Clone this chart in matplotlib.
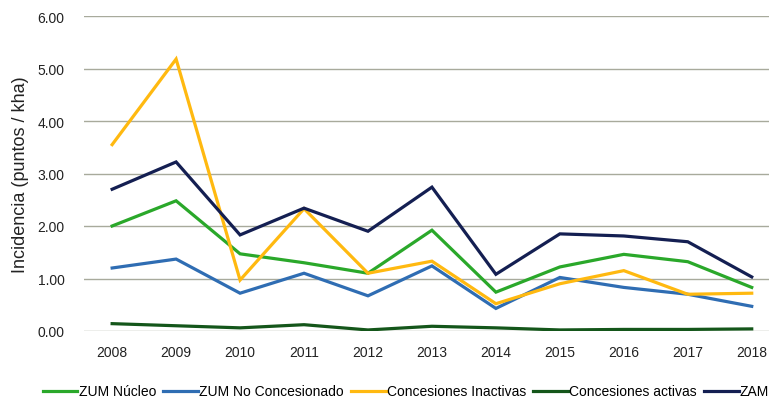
import matplotlib.pyplot as plt

# Data
years = [2008, 2009, 2010, 2011, 2012, 2013, 2014, 2015, 2016, 2017, 2018]
zum_nucleo = [2.00, 2.48, 1.47, 1.30, 1.10, 1.92, 0.74, 1.22, 1.46, 1.32, 0.83]
zum_no_conc = [1.20, 1.37, 0.72, 1.10, 0.67, 1.24, 0.43, 1.02, 0.83, 0.70, 0.47]
conc_inactivas = [3.55, 5.18, 0.97, 2.33, 1.10, 1.33, 0.52, 0.90, 1.15, 0.70, 0.72]
conc_activas = [0.14, 0.10, 0.06, 0.12, 0.02, 0.09, 0.06, 0.02, 0.03, 0.03, 0.04]
zam = [2.70, 3.22, 1.83, 2.34, 1.90, 2.74, 1.08, 1.85, 1.81, 1.70, 1.03]

labels = ["ZUM Núcleo", "ZUM No Concesionado", "Concesiones Inactivas",
          "Concesiones activas", "ZAM"]
colors = ["#2aa82a", "#2f6db3", "#ffb910", "#14561a", "#141f52"]

plt.rcParams["font.family"] = ["Liberation Sans", "DejaVu Sans"]

fig = plt.figure(figsize=(7.69, 4.02), dpi=100)
ax = fig.add_axes([84 / 769, 1 - 332 / 402, (769 - 84) / 769, (332 - 17) / 402])

series = [zum_nucleo, zum_no_conc, conc_inactivas, conc_activas, zam]
for vals, lab, col in zip(series, labels, colors):
    ax.plot(years, vals, color=col, lw=2.3, label=lab, solid_joinstyle="miter")

ax.set_xlim(2007.56, 2018.27)
ax.set_ylim(0, 6)
ax.set_yticks([0, 1, 2, 3, 4, 5, 6])
ax.set_yticklabels(["%.2f" % v for v in [0, 1, 2, 3, 4, 5, 6]])
ax.set_xticks(years)
ax.tick_params(length=0, labelsize=10, colors="#222222", pad=10)
ax.tick_params(axis="y", pad=14)
ax.grid(axis="y", color="#a8aa9c", lw=1.0)
ax.set_axisbelow(True)
for s in ax.spines.values():
    s.set_visible(False)

ax.set_ylabel("Incidencia (puntos / kha)", fontsize=13, color="#222222", labelpad=6)

ax.legend(loc="upper center", bbox_to_anchor=(0.47, -0.13), ncol=5, frameon=False,
          fontsize=10, handlelength=2.5, handletextpad=0.1, columnspacing=0.5)

fig.savefig("out.png", dpi=100)
